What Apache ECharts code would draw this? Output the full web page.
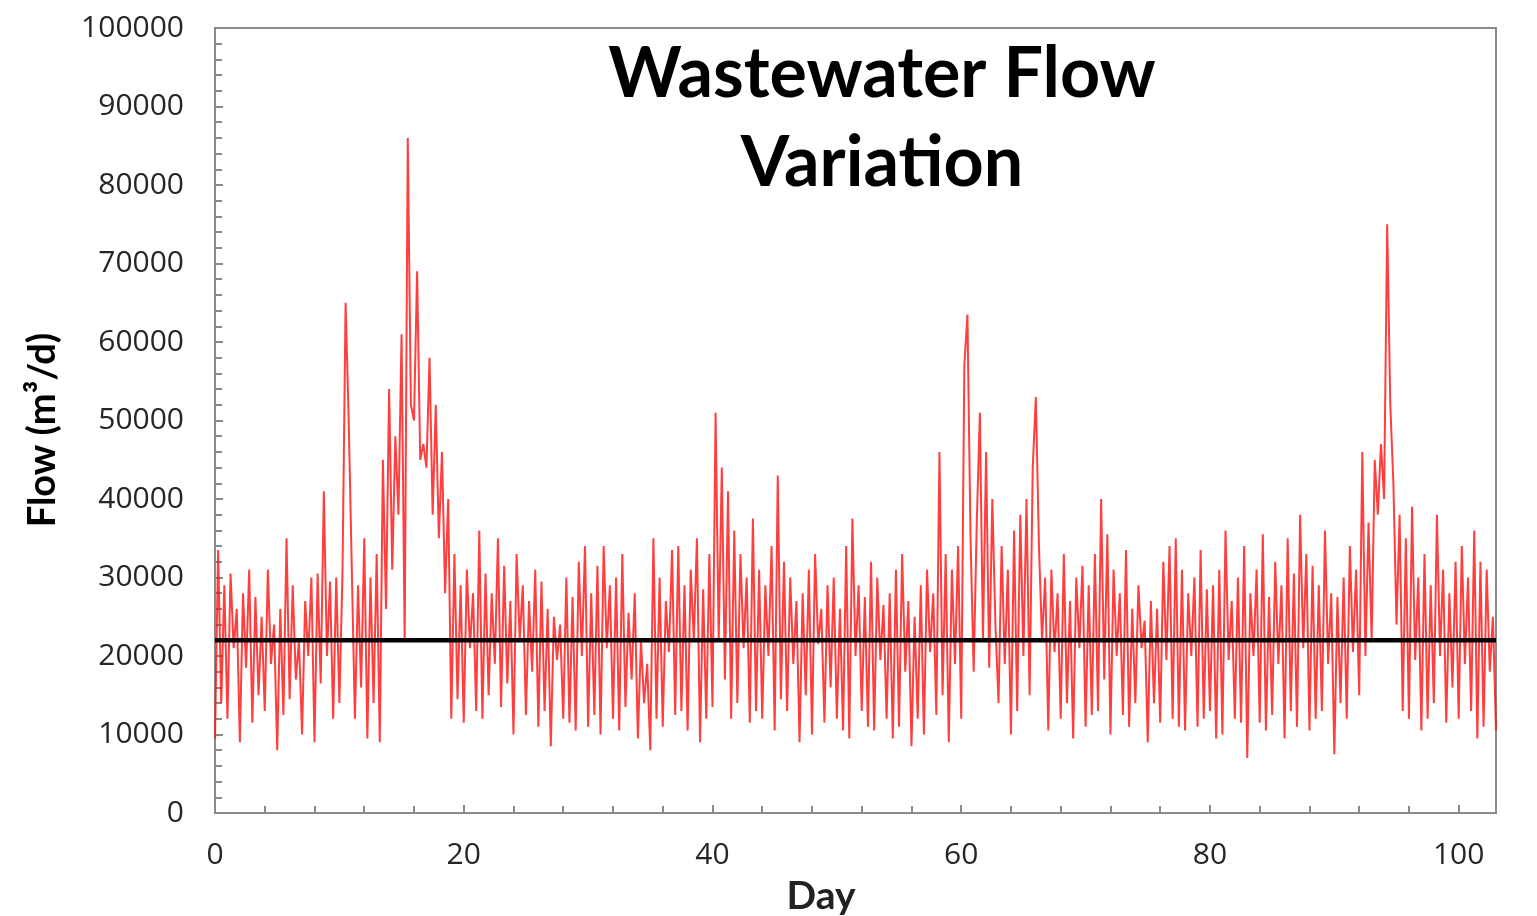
<!DOCTYPE html>
<html>
<head>
<meta charset="utf-8">
<title>Wastewater Flow Variation</title>
<script src="https://cdn.jsdelivr.net/npm/echarts@6/dist/echarts.min.js"></script>
<style>
  html, body { margin: 0; padding: 0; background: #ffffff; }
  #chart { width: 1537px; height: 916px; }
</style>
</head>
<body>
<div id="chart"></div>
<script>
// Flow readings (m3/d), four readings per day (every 6 hours), one row per day.
const flowByDay = [
  [9500, 33500, 14000, 29000],   // day 0
  [12000, 30500, 21000, 26000],
  [9000, 28000, 18500, 31000],
  [11500, 27500, 15000, 25000],
  [13000, 31000, 19000, 24000],
  [8000, 26000, 12500, 35000],   // day 5
  [14500, 29000, 17000, 22000],
  [10000, 27000, 20000, 30000],
  [9000, 30500, 16500, 41000],
  [20000, 29500, 12000, 30000],
  [14000, 30500, 65000, 50000],  // day 10
  [31000, 12000, 29000, 16000],
  [35000, 9500, 30000, 14000],
  [33000, 9000, 45000, 26000],
  [54000, 31000, 48000, 38000],
  [61000, 22000, 86000, 52000],  // day 15
  [50000, 69000, 45000, 47000],
  [44000, 58000, 38000, 52000],
  [35000, 46000, 28000, 40000],
  [12000, 33000, 14500, 29000],
  [11500, 31000, 21000, 28000],  // day 20
  [13000, 36000, 12000, 30500],
  [15000, 28000, 19000, 35000],
  [13500, 31500, 16500, 27000],
  [10000, 33000, 22000, 29000],
  [12500, 27000, 18000, 31000],  // day 25
  [11000, 29500, 13000, 26000],
  [8500, 25000, 19500, 24000],
  [12000, 30000, 11500, 27500],
  [10500, 32000, 20000, 34000],
  [11000, 28000, 12500, 31500],  // day 30
  [10000, 34000, 21000, 29000],
  [12000, 30000, 10500, 33000],
  [13500, 25500, 17000, 28000],
  [9500, 22000, 14000, 19000],
  [8000, 35000, 12000, 30000],   // day 35
  [11000, 27000, 20500, 33500],
  [12500, 34000, 13000, 29000],
  [10500, 31000, 22000, 35000],
  [9000, 28500, 12000, 33000],
  [13500, 51000, 22000, 44000],  // day 40
  [17000, 41000, 12000, 36000],
  [14000, 33000, 21000, 30000],
  [11500, 37500, 13000, 31000],
  [12000, 29000, 20000, 34000],
  [10500, 43000, 14500, 32000],  // day 45
  [13000, 30000, 19000, 27000],
  [9000, 28000, 15000, 31000],
  [10000, 33000, 21500, 26000],
  [11500, 29000, 16000, 30000],
  [12000, 26000, 10500, 34000],  // day 50
  [9500, 37500, 20000, 29000],
  [13000, 27500, 11000, 32000],
  [10500, 30000, 19500, 26500],
  [12000, 28000, 9500, 31000],
  [11000, 33000, 18000, 27000],  // day 55
  [8500, 25000, 12000, 29000],
  [10000, 31000, 20500, 28000],
  [12500, 46000, 15000, 33000],
  [9000, 31000, 19000, 34000],
  [12000, 57000, 63500, 35000],  // day 60
  [18000, 37000, 51000, 22000],
  [46000, 18500, 40000, 24000],
  [14000, 34000, 19000, 31000],
  [10000, 36000, 13000, 38000],
  [20000, 40000, 15000, 44000],  // day 65
  [53000, 34000, 22000, 30000],
  [10500, 31000, 20500, 28000],
  [12000, 33000, 14000, 27000],
  [9500, 30000, 21000, 31500],
  [11000, 29000, 12500, 33000],  // day 70
  [13000, 40000, 17000, 35500],
  [10000, 31000, 20000, 28000],
  [12500, 33500, 11000, 26000],
  [14000, 29000, 21000, 24500],
  [9000, 27000, 14000, 26000],   // day 75
  [11500, 32000, 19500, 34000],
  [12000, 35000, 11000, 31000],
  [10500, 28000, 20000, 30000],
  [11000, 33500, 12000, 28500],
  [13000, 29000, 9500, 31000],   // day 80
  [10000, 36000, 19500, 27000],
  [12000, 30000, 11500, 34000],
  [7000, 28000, 20000, 31000],
  [11500, 35500, 10500, 27500],
  [12500, 32000, 19000, 29000],  // day 85
  [9500, 35000, 13000, 30500],
  [11000, 38000, 21000, 33000],
  [10500, 31500, 12000, 29000],
  [13000, 36000, 19000, 28000],
  [7500, 27500, 14000, 30000],   // day 90
  [12000, 34000, 20500, 31000],
  [15000, 46000, 20000, 37000],
  [22000, 45000, 38000, 47000],
  [40000, 75000, 52000, 42000],
  [24000, 38000, 13000, 35000],  // day 95
  [12000, 39000, 19500, 30000],
  [10500, 33000, 12000, 29000],
  [14000, 38000, 20000, 31000],
  [11500, 28000, 16000, 32000],
  [12000, 34000, 19000, 30000],  // day 100
  [13000, 36000, 9500, 32000],
  [11000, 31000, 18000, 25000]
];
const lastReading = 10500;       // reading at the start of day 103
const readingsPerDay = 4;

// Average flow drawn as the reference line
const averageFlow = 22000;

// Axis ranges and tick spacing
const dayMax = 103;
const dayTickStep = 20;
const flowMax = 100000;
const flowTickStep = 10000;

// Title lines and axis names
const titleLines = ['Wastewater Flow', 'Variation'];
const yAxisName = 'Flow (m\u00b3/d)';
const xAxisName = 'Day';

// [day, flow] pairs for the flow series
const flowPoints = [];
flowByDay.forEach((row, d) => {
  row.forEach((v, k) => flowPoints.push([d + k / readingsPerDay, v]));
});
flowPoints.push([flowByDay.length, lastReading]);

const averagePoints = [[0, averageFlow], [dayMax, averageFlow]];

const axisGray = '#8a8a8a';
const labelFont = { fontFamily: 'Open Sans', fontSize: 30, color: '#262626' };

const chart = echarts.init(document.getElementById('chart'), null, { renderer: 'canvas' });

chart.setOption({
  backgroundColor: '#ffffff',
  animation: false,
  grid: {
    left: 215, right: 41, top: 28, bottom: 103,
    show: true, borderColor: axisGray, borderWidth: 2, backgroundColor: 'transparent'
  },
  xAxis: {
    type: 'value',
    min: 0, max: dayMax, interval: dayTickStep,
    axisLine: { show: true, onZero: false, lineStyle: { color: axisGray, width: 2 } },
    axisTick: { show: true, inside: true, length: 8, lineStyle: { color: axisGray, width: 2 } },
    minorTick: { show: true, splitNumber: 5, length: 7, lineStyle: { color: axisGray, width: 2 } },
    splitLine: { show: false },
    axisLabel: Object.assign({ margin: 27, showMaxLabel: false,
      formatter: v => (v % dayTickStep === 0 ? String(v) : '') }, labelFont)
  },
  yAxis: {
    type: 'value',
    min: 0, max: flowMax, interval: flowTickStep,
    axisLine: { show: true, lineStyle: { color: axisGray, width: 2 } },
    axisTick: { show: true, inside: true, length: 8, lineStyle: { color: axisGray, width: 2 } },
    minorTick: { show: true, splitNumber: 5, length: 7, lineStyle: { color: axisGray, width: 2 } },
    splitLine: { show: false },
    axisLabel: Object.assign({ margin: 31, formatter: v => String(v) }, labelFont)
  },
  graphic: [
    {
      type: 'text', silent: true, x: 882, y: 74,
      style: { text: titleLines[0], fill: '#000000', font: 'bold 70px Lato',
               textAlign: 'center', textVerticalAlign: 'middle' }
    },
    {
      type: 'text', silent: true, x: 882, y: 163,
      style: { text: titleLines[1], fill: '#000000', font: 'bold 70px Lato',
               textAlign: 'center', textVerticalAlign: 'middle' }
    },
    {
      type: 'text', silent: true, x: 43, y: 430, rotation: Math.PI / 2,
      style: { text: yAxisName, fill: '#000000', font: 'bold 38px Lato',
               textAlign: 'center', textVerticalAlign: 'middle' }
    },
    {
      type: 'text', silent: true, x: 821, y: 896,
      style: { text: xAxisName, fill: '#222222', font: 'bold 39px Lato',
               textAlign: 'center', textVerticalAlign: 'middle' }
    }
  ],
  series: [
    {
      name: 'Flow',
      type: 'line',
      data: flowPoints,
      showSymbol: false,
      symbol: 'none',
      lineStyle: { color: '#ff1414', width: 2, opacity: 0.82 },
      z: 2
    },
    {
      name: 'Average',
      type: 'line',
      data: averagePoints,
      showSymbol: false,
      symbol: 'none',
      lineStyle: { color: '#000000', width: 4.5 },
      z: 3
    }
  ]
});
</script>
</body>
</html>
